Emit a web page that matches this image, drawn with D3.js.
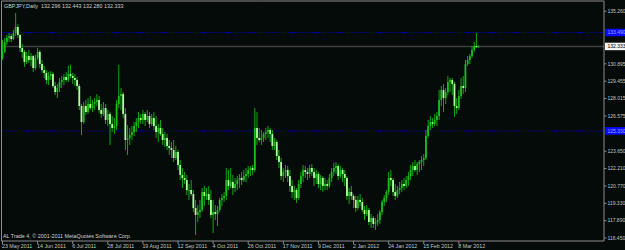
<!DOCTYPE html>
<html>
<head>
<meta charset="utf-8">
<script src="https://cdn.jsdelivr.net/npm/d3@7"></script>
<style>
  html, body { margin: 0; padding: 0; background: #050b08; }
  svg { display: block; }
</style>
</head>
<body>
<div id="chart"></div>
<script>
// GBPJPY daily bars, 23 May 2011 .. 21 Mar 2012 (one bar per weekday)
const opens = [
  131.38, 131.88, 132.71, 133.04, 133.20, 132.95, 133.45, 133.95, 133.29, 132.21,
  131.88, 131.05, 131.54, 131.21, 131.54, 130.55, 131.38, 131.88, 130.88, 130.38,
  130.14, 129.56, 129.89, 130.05, 129.06, 128.56, 128.89, 129.39, 129.56, 129.80,
  129.56, 130.05, 129.89, 129.72, 129.56, 129.06, 127.40, 126.07, 127.40, 126.90,
  127.57, 127.23, 127.57, 127.73, 127.90, 127.07, 126.74, 127.23, 126.24, 126.74,
  125.91, 125.58, 125.74, 127.57, 128.23, 128.39, 126.74, 124.58, 124.75, 124.99,
  125.24, 125.74, 126.07, 126.40, 126.24, 126.74, 126.24, 126.57, 125.91, 126.40,
  125.74, 125.24, 125.58, 125.08, 124.58, 124.75, 124.08, 123.92, 123.75, 123.09,
  123.59, 122.51, 121.68, 121.43, 121.26, 120.43, 120.43, 120.10, 118.94, 118.36,
  118.61, 118.78, 120.27, 119.94, 120.10, 119.61, 118.36, 118.61, 118.44, 118.78,
  119.61, 119.77, 119.94, 121.26, 120.77, 121.10, 120.60, 120.93, 121.26, 121.43,
  121.26, 121.59, 121.76, 122.09, 122.26, 122.09, 125.58, 124.75, 124.58, 124.75,
  125.08, 125.24, 125.41, 125.08, 124.08, 124.41, 123.25, 122.76, 121.59, 121.93,
  122.09, 121.59, 120.77, 120.27, 120.43, 119.77, 120.93, 121.59, 122.09, 121.93,
  121.76, 122.26, 121.93, 121.43, 121.76, 120.93, 121.43, 120.77, 120.93, 120.77,
  121.43, 121.93, 122.26, 122.42, 121.59, 122.09, 121.76, 121.43, 119.94, 120.27,
  119.94, 119.61, 118.94, 119.61, 119.44, 118.78, 118.44, 118.78, 117.78, 118.11,
  117.62, 117.78, 117.95, 118.61, 119.44, 119.77, 120.27, 121.43, 121.26, 120.27,
  119.94, 120.43, 120.60, 120.93, 120.77, 121.26, 121.59, 122.09, 122.42, 122.09,
  122.59, 122.76, 122.92, 123.09, 124.91, 125.74, 126.07, 125.91, 126.24, 126.57,
  127.90, 128.73, 128.06, 128.56, 129.39, 129.56, 129.22, 127.40, 127.23, 128.23,
  129.06, 128.89, 130.88, 131.21, 131.54, 132.04, 132.37, 132.296
];
const highs = [
  132.87, 133.04, 133.29, 133.45, 133.37, 133.70, 135.11, 134.20, 133.37, 132.54,
  132.04, 131.88, 132.04, 131.79, 131.63, 131.63, 132.21, 132.04, 131.21, 130.72,
  130.38, 130.22, 130.30, 130.22, 129.39, 129.22, 129.72, 129.89, 130.05, 130.22,
  130.72, 130.80, 130.14, 130.05, 129.80, 129.22, 127.57, 127.73, 127.90, 128.06,
  128.23, 127.90, 128.06, 128.39, 128.23, 127.57, 127.73, 127.57, 127.07, 126.90,
  126.57, 126.40, 127.90, 130.80, 128.89, 128.56, 127.23, 125.82, 125.58, 125.74,
  126.07, 126.40, 126.90, 126.74, 127.07, 126.90, 127.07, 126.90, 126.74, 126.90,
  126.57, 125.91, 126.24, 125.58, 125.24, 125.08, 124.58, 124.41, 124.58, 124.08,
  123.75, 122.92, 122.26, 121.93, 121.68, 120.93, 121.26, 120.43, 119.61, 119.19,
  119.61, 120.60, 120.77, 120.60, 120.77, 120.43, 119.61, 119.19, 119.11, 119.77,
  120.10, 120.27, 122.26, 122.09, 122.26, 121.68, 121.43, 121.59, 121.76, 121.93,
  122.09, 122.26, 122.42, 122.42, 122.51, 127.23, 126.90, 125.58, 125.41, 125.24,
  125.58, 125.74, 125.58, 125.41, 124.75, 124.58, 123.75, 123.09, 122.26, 122.51,
  122.42, 122.09, 121.26, 120.77, 120.60, 121.26, 121.93, 122.51, 122.42, 122.26,
  122.51, 122.59, 122.26, 122.09, 121.93, 121.68, 121.59, 121.43, 121.26, 121.76,
  122.26, 122.67, 122.76, 122.59, 122.42, 122.26, 122.09, 121.59, 120.60, 120.77,
  120.10, 119.94, 119.94, 120.10, 119.77, 119.11, 119.19, 118.94, 118.44, 118.28,
  118.11, 118.44, 118.78, 119.61, 120.02, 120.43, 121.93, 122.09, 121.43, 120.93,
  120.77, 121.10, 121.26, 121.43, 121.59, 121.93, 122.51, 122.76, 122.92, 122.76,
  122.92, 123.25, 123.42, 125.41, 126.24, 126.57, 126.40, 126.74, 126.90, 128.73,
  129.06, 129.22, 128.89, 129.89, 129.72, 129.72, 129.39, 128.06, 128.73, 129.72,
  129.89, 131.21, 131.54, 131.71, 132.37, 132.71, 133.45, 132.443
];
const lows = [
  131.21, 131.79, 132.46, 132.71, 132.71, 132.87, 133.20, 133.04, 131.88, 131.38,
  130.63, 130.88, 130.96, 130.72, 130.22, 130.38, 131.21, 130.55, 130.14, 129.72,
  129.22, 129.14, 129.56, 128.89, 128.31, 128.06, 128.56, 128.89, 129.14, 129.39,
  129.39, 129.72, 129.22, 129.06, 128.73, 127.07, 124.99, 125.91, 126.65, 126.74,
  127.07, 126.90, 127.07, 127.40, 126.82, 126.40, 126.57, 125.91, 125.74, 124.17,
  125.24, 125.08, 125.41, 127.23, 127.07, 126.40, 123.75, 123.34, 124.17, 124.58,
  124.91, 125.24, 125.58, 125.91, 125.91, 125.74, 126.07, 125.58, 125.74, 125.41,
  124.75, 124.41, 124.91, 124.17, 124.00, 123.75, 123.34, 123.09, 122.76, 122.92,
  122.09, 121.26, 120.60, 120.93, 120.02, 119.61, 119.94, 118.61, 116.70, 117.78,
  118.11, 118.61, 119.11, 119.61, 119.19, 118.11, 116.87, 117.95, 117.45, 118.61,
  119.11, 119.44, 119.61, 120.43, 120.60, 120.02, 120.27, 120.43, 120.60, 120.85,
  121.10, 121.10, 121.43, 121.59, 121.68, 121.93, 124.17, 124.41, 124.17, 124.41,
  124.58, 124.75, 124.41, 123.75, 123.75, 122.92, 122.26, 121.26, 121.10, 121.43,
  121.10, 120.27, 119.77, 119.61, 119.36, 119.61, 120.60, 121.10, 121.43, 121.26,
  121.43, 121.59, 120.77, 120.93, 120.60, 120.43, 120.27, 120.43, 120.43, 120.60,
  121.10, 121.59, 121.76, 121.26, 121.43, 121.10, 120.77, 119.61, 119.27, 119.61,
  118.94, 118.61, 118.78, 119.11, 118.61, 117.95, 118.28, 117.53, 117.28, 117.28,
  117.12, 117.45, 117.62, 118.36, 119.11, 119.44, 120.02, 120.77, 119.94, 119.61,
  119.77, 120.10, 120.27, 120.43, 120.60, 120.77, 121.26, 121.59, 121.93, 121.68,
  121.93, 122.09, 122.42, 122.92, 124.75, 125.41, 125.58, 125.74, 125.74, 126.24,
  127.40, 126.90, 127.57, 128.31, 128.56, 128.31, 126.49, 126.74, 127.07, 127.98,
  128.39, 128.56, 130.72, 130.88, 131.38, 131.88, 132.21, 132.280
];
const closes = [
  131.88, 132.71, 133.04, 133.20, 132.95, 133.45, 133.95, 133.29, 132.21, 131.88,
  131.05, 131.54, 131.21, 131.54, 130.55, 131.38, 131.88, 130.88, 130.38, 130.14,
  129.56, 129.89, 130.05, 129.06, 128.56, 128.89, 129.39, 129.56, 129.80, 129.56,
  130.05, 129.89, 129.72, 129.56, 129.06, 127.40, 126.07, 127.40, 126.90, 127.57,
  127.23, 127.57, 127.73, 127.90, 127.07, 126.74, 127.23, 126.24, 126.74, 125.91,
  125.58, 125.74, 127.57, 128.23, 128.39, 126.74, 124.58, 124.75, 124.99, 125.24,
  125.74, 126.07, 126.40, 126.24, 126.74, 126.24, 126.57, 125.91, 126.40, 125.74,
  125.24, 125.58, 125.08, 124.58, 124.75, 124.08, 123.92, 123.75, 123.09, 123.59,
  122.51, 121.68, 121.43, 121.26, 120.43, 120.43, 120.10, 118.94, 118.36, 118.61,
  118.78, 120.27, 119.94, 120.10, 119.61, 118.36, 118.61, 118.44, 118.78, 119.61,
  119.77, 119.94, 121.26, 120.77, 121.10, 120.60, 120.93, 121.26, 121.43, 121.26,
  121.59, 121.76, 122.09, 122.26, 122.09, 125.58, 124.75, 124.58, 124.75, 125.08,
  125.24, 125.41, 125.08, 124.08, 124.41, 123.25, 122.76, 121.59, 121.93, 122.09,
  121.59, 120.77, 120.27, 120.43, 119.77, 120.93, 121.59, 122.09, 121.93, 121.76,
  122.26, 121.93, 121.43, 121.76, 120.93, 121.43, 120.77, 120.93, 120.77, 121.43,
  121.93, 122.26, 122.42, 121.59, 122.09, 121.76, 121.43, 119.94, 120.27, 119.94,
  119.61, 118.94, 119.61, 119.44, 118.78, 118.44, 118.78, 117.78, 118.11, 117.62,
  117.78, 117.95, 118.61, 119.44, 119.77, 120.27, 121.43, 121.26, 120.27, 119.94,
  120.43, 120.60, 120.93, 120.77, 121.26, 121.59, 122.09, 122.42, 122.09, 122.59,
  122.76, 122.92, 123.09, 124.91, 125.74, 126.07, 125.91, 126.24, 126.57, 127.90,
  128.73, 128.06, 128.56, 129.39, 129.56, 129.22, 127.40, 127.23, 128.23, 129.06,
  128.89, 130.88, 131.21, 131.54, 132.04, 132.37, 132.29, 132.333
];

// time axis: a label every 16 bars
const timeLabels = ["23 May 2011", "14 Jun 2011", "6 Jul 2011", "28 Jul 2011", "19 Aug 2011",
  "12 Sep 2011", "4 Oct 2011", "26 Oct 2011", "17 Nov 2011", "9 Dec 2011",
  "2 Jan 2012", "24 Jan 2012", "15 Feb 2012", "8 Mar 2012"];
const timeLabelBars = [0, 16, 32, 48, 64, 80, 96, 112, 128, 144, 160, 176, 192, 208];

// price axis labels
const priceTicks = ["135.260", "130.895", "129.455", "128.015", "126.575",
  "123.650", "122.210", "120.770", "119.330", "117.890", "116.450"];

const hLines = [133.49, 125.33];   // user drawn horizontal lines
const hLineLabels = ["133.490", "125.330"];
const lastPrice = 132.333;
const title = "GBPJPY,Daily  132.296 132.443 132.280 132.333";
const footer = "AL Trade 4, \u00a9 2001-2011 MetaQuotes Software Corp.";

const W = 625, H = 250;
const plotLeft = 1.5, plotRight = 604, plotTop = 1, plotBottom = 241;
const font = "'Liberation Sans', Arial, sans-serif";
const axisFs = 5;

const svg = d3.select("#chart").append("svg")
  .attr("width", W)
  .attr("height", H);

svg.append("rect").attr("width", W).attr("height", H).attr("fill", "#050b08");

const x = d3.scaleLinear().domain([0, closes.length - 1]).range([2.5, 478.6]);
const y = d3.scaleLinear().domain([116.45, 135.26]).range([238.05, 11.2]);

const bars = closes.map((c, i) => ({ i, o: opens[i], h: highs[i], l: lows[i], c }));

// horizontal lines
svg.append("g").selectAll("line")
  .data(hLines)
  .join("line")
  .attr("x1", plotLeft).attr("x2", plotRight)
  .attr("y1", d => y(d)).attr("y2", d => y(d))
  .attr("stroke", "#0000d8")
  .attr("stroke-width", 0.9)
  .attr("stroke-dasharray", "1,1.2");

// bid line
svg.append("line")
  .attr("x1", plotLeft).attr("x2", plotRight)
  .attr("y1", y(lastPrice)).attr("y2", y(lastPrice))
  .attr("stroke", "#3c3f3e")
  .attr("stroke-width", 1.6);

// candles
const g = svg.append("g");
g.selectAll("line.wick")
  .data(bars)
  .join("line")
  .attr("class", "wick")
  .attr("x1", d => x(d.i)).attr("x2", d => x(d.i))
  .attr("y1", d => y(d.h)).attr("y2", d => y(d.l))
  .attr("stroke", "#12a812")
  .attr("stroke-width", 1);

g.selectAll("rect.body")
  .data(bars)
  .join("rect")
  .attr("class", "body")
  .attr("x", d => x(d.i) - 0.9)
  .attr("width", 1.8)
  .attr("y", d => y(Math.max(d.o, d.c)))
  .attr("height", d => Math.max(1, y(Math.min(d.o, d.c)) - y(Math.max(d.o, d.c))))
  .attr("fill", d => d.c >= d.o ? "#1cbc1c" : "#b0ffa0");

// frame
svg.append("path")
  .attr("d", `M${plotLeft},${plotBottom}V${plotTop}H${plotRight}V${plotBottom}Z`)
  .attr("fill", "none")
  .attr("stroke", "#8c8c8c")
  .attr("stroke-width", 1);

// price axis
const pa = svg.append("g").attr("font-family", font).attr("font-size", axisFs).attr("fill", "#c4c4c4");
priceTicks.forEach(t => {
  const yy = y(+t);
  pa.append("line").attr("x1", plotRight).attr("x2", plotRight + 2.5)
    .attr("y1", yy).attr("y2", yy).attr("stroke", "#8c8c8c");
  pa.append("text").attr("x", plotRight + 3.5).attr("y", yy + 1.8).text(t);
});

// labels for the horizontal lines
hLines.forEach((p, k) => {
  const yy = y(p);
  svg.append("rect").attr("x", plotRight + 1).attr("y", yy - 3.8).attr("width", W - plotRight).attr("height", 7.5)
    .attr("fill", "#0a0aff");
  svg.append("text").attr("x", plotRight + 3.5).attr("y", yy + 1.8)
    .attr("font-family", font).attr("font-size", axisFs).attr("fill", "#9aa6ff").text(hLineLabels[k]);
});

// last price label
svg.append("rect").attr("x", plotRight + 1).attr("y", y(lastPrice) - 3.8).attr("width", W - plotRight).attr("height", 7.5)
  .attr("fill", "#f2f2f2");
svg.append("text").attr("x", plotRight + 3.5).attr("y", y(lastPrice) + 1.8)
  .attr("font-family", font).attr("font-size", axisFs).attr("fill", "#000").text(d3.format(".3f")(lastPrice));

// time axis
const ta = svg.append("g").attr("font-family", font).attr("font-size", 5.3).attr("fill", "#c4c4c4");
timeLabels.forEach((t, k) => {
  const xx = x(timeLabelBars[k]);
  ta.append("line").attr("x1", xx).attr("x2", xx).attr("y1", plotBottom).attr("y2", plotBottom + 3)
    .attr("stroke", "#8c8c8c");
  ta.append("text").attr("x", xx - 0.5).attr("y", 248).text(t);
});

// header and footer texts
svg.append("text").attr("x", 4).attr("y", 8)
  .attr("font-family", font).attr("font-size", 5.4).attr("fill", "#d0d0d0")
  .attr("xml:space", "preserve").text(title);
svg.append("text").attr("x", 3).attr("y", 237.5)
  .attr("font-family", font).attr("font-size", 5.4).attr("fill", "#d0d0d0").text(footer);
</script>
</body>
</html>
